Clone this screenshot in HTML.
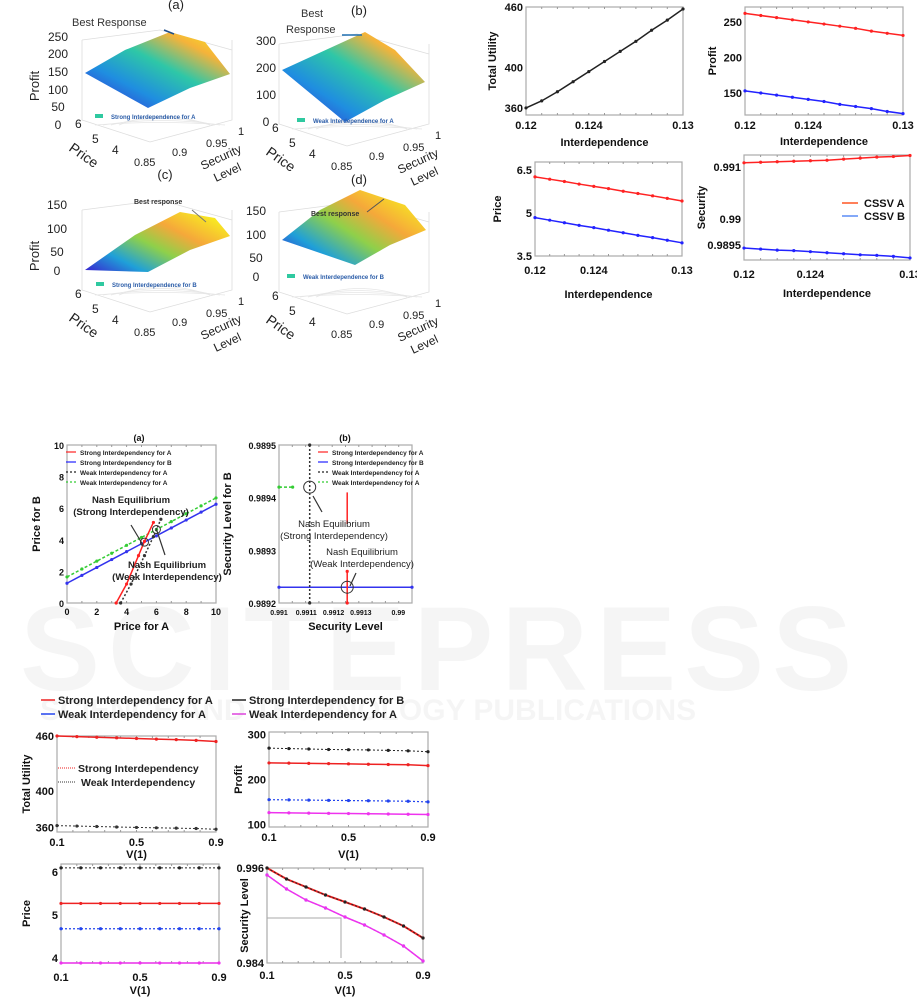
<!DOCTYPE html>
<html><head><meta charset="utf-8">
<style>
html,body{margin:0;padding:0;background:#fff;}
svg{display:block;font-family:"Liberation Sans",Arial,sans-serif;}
.t{font-size:11px;font-weight:bold;fill:#111;}
.s{font-size:9px;font-weight:bold;fill:#111;}
.n{font-size:13px;fill:#222;}
</style></head>
<body>
<svg id="fig" width="917" height="1003" viewBox="0 0 917 1003" xmlns="http://www.w3.org/2000/svg">
<defs>
<linearGradient id="surfA" x1="0" y1="1" x2="1" y2="0">
<stop offset="0" stop-color="#3a1fd0"/><stop offset="0.3" stop-color="#1f8ee0"/><stop offset="0.55" stop-color="#2ec7a7"/><stop offset="0.78" stop-color="#f5b33a"/><stop offset="1" stop-color="#f8f218"/></linearGradient>
<linearGradient id="surfC" x1="0" y1="1" x2="1" y2="0.2">
<stop offset="0" stop-color="#3a1fd0"/><stop offset="0.25" stop-color="#1fa0d8"/><stop offset="0.5" stop-color="#8fd04a"/><stop offset="0.72" stop-color="#f5a83a"/><stop offset="1" stop-color="#f8ee20"/></linearGradient>
</defs>
<g opacity="0.035">
<text x="20" y="690" font-size="120" font-weight="bold" fill="#000" letter-spacing="8">SCITEPRESS</text>
<text x="40" y="720" font-size="30" font-weight="bold" fill="#000">SCIENCE AND TECHNOLOGY PUBLICATIONS</text>
</g>
<g id="surfaces"></g>
<g id="charts"></g>
</svg>
<script>
const NS="http://www.w3.org/2000/svg";
const fig=document.getElementById('fig');
function mk(tag,at,parent,txt){const e=document.createElementNS(NS,tag);for(const k in at)e.setAttribute(k,at[k]);if(txt!==undefined)e.textContent=txt;(parent||fig).appendChild(e);return e;}

/* ---------- 3D surface panels (illustrative) ---------- */
const surfPanels=[
 {lab:"(a)",lx:176,ly:9,zt:["250","200","150","100","50","0"],zx:58,zy:[41,58,76,94,111,129],poly:"85,73 125,50 170,32 205,42 230,74 190,88 148,108",grad:"surfA",leg:"Strong Interdependence for A",legx:111,legy:120,title:"Best Response",tx:72,ty:26,ox:0,oy:0,profit:true},
 {lab:"(b)",lx:359,ly:15,zt:["300","200","100","0"],zx:266,zy:[45,72,99,126],poly:"282,70 330,48 365,32 395,50 425,82 385,100 345,122",grad:"surfA",leg:"Weak Interdependence for A",legx:313,legy:124,title:"Best",tx:301,ty:17,ox:197,oy:4,profit:false},
 {lab:"(c)",lx:165,ly:179,zt:["150","100","50","0"],zx:57,zy:[209,233,256,275],poly:"85,270 135,235 180,212 215,218 230,236 190,250 148,272",grad:"surfC",leg:"Strong Interdependence for B",legx:112,legy:288,title:"Best response",tx:134,ty:204,ox:0,oy:170,profit:true},
 {lab:"(d)",lx:359,ly:184,zt:["150","100","50","0"],zx:256,zy:[215,239,262,281],poly:"282,240 320,210 360,190 405,205 426,230 390,245 355,265",grad:"surfC",leg:"Weak Interdependence for B",legx:303,legy:280,title:"Best response",tx:311,ty:216,ox:197,oy:172,profit:false}
];
const sg=document.getElementById('surfaces');
surfPanels.forEach((p,i)=>{
 const g=mk('g',{},sg);
 
 
 mk('path',{d:`M${82+p.ox},${40+p.oy} L${82+p.ox},${120+p.oy} L${150+p.ox},${142+p.oy} L${232+p.ox},${120+p.oy} L${232+p.ox},${40+p.oy} M${82+p.ox},${40+p.oy} L${160+p.ox},${30+p.oy} L${232+p.ox},${50+p.oy}`,fill:'none',stroke:'#ddd','stroke-width':0.8},g);
 for(let k=0;k<4;k++)mk('path',{d:`M${95+p.ox+k*8},${125+p.oy} Q${160+p.ox},${120+p.oy-k*4} ${225+p.ox-k*5},${125+p.oy}`,fill:'none',stroke:'#e6e6e6','stroke-width':0.7},g);
 const s=mk('polygon',{points:p.poly,fill:'url(#'+p.grad+')'},g);
 
 
 mk('text',{x:p.lx,y:p.ly,'font-size':13,'text-anchor':'middle',fill:'#222'},g,p.lab);
 p.zt.forEach((t,j)=>mk('text',{x:p.zx,y:p.zy[j],'font-size':12,'text-anchor':'middle',fill:'#222'},g,t));
 if(p.profit)mk('text',{x:0,y:0,'font-size':13,fill:'#222','text-anchor':'middle',transform:`translate(${39},${p.oy+86}) rotate(-90)`},g,'Profit');
 const px=p.ox,py=p.oy;
 [["6",75,128],["5",92,143],["4",112,154]].forEach(a=>mk('text',{x:a[1]+px,y:a[2]+py,'font-size':12,fill:'#222'},g,a[0]));
 [["0.85",134,166],["0.9",172,156],["0.95",206,147],["1",238,135]].forEach(a=>mk('text',{x:a[1]+px,y:a[2]+py,'font-size':11,fill:'#222'},g,a[0]));
 mk('text',{x:0,y:0,'font-size':14,fill:'#222',transform:`translate(${68+px},${150+py}) rotate(35)`},g,'Price');
 mk('text',{x:0,y:0,'font-size':12,fill:'#222',transform:`translate(${203+px},${170+py}) rotate(-25)`},g,'Security');
 mk('text',{x:0,y:0,'font-size':12,fill:'#222',transform:`translate(${216+px},${182+py}) rotate(-25)`},g,'Level');
 mk('rect',{x:p.legx-16,y:p.legy-6,width:8,height:4,fill:'#2fc9a0'},g);
 mk('text',{x:p.legx,y:p.legy-1,'font-size':6,'font-weight':'bold',fill:'#2a5ca8'},g,p.leg);
 mk('text',{x:p.tx,y:p.ty,'font-size':i<2?11:7,'font-weight':i<2?'normal':'bold',fill:'#333'},g,p.title);
 if(i===1)mk('text',{x:286,y:33,'font-size':11,fill:'#333'},g,'Response');
});
mk('path',{d:'M164,30 L174,34',stroke:'#1f4f8a','stroke-width':1.5,fill:'none'});
mk('path',{d:'M342,35 L362,35',stroke:'#1f6fb0','stroke-width':1.5,fill:'none'});
mk('path',{d:'M192,210 L206,222',stroke:'#777','stroke-width':1,fill:'none'});
mk('path',{d:'M367,212 L384,199',stroke:'#555','stroke-width':1,fill:'none'});

/* ---------- Line chart data ---------- */
const interdep=[0.12,0.121,0.122,0.123,0.124,0.125,0.126,0.127,0.128,0.129,0.13];
const tuInter=[360,367,376,386,396,406,416,426,437,447,458];
const profitA=[262,259,256,253,250,247,244,241,237,234,231];
const profitB=[153,150,147,144,141,138,134,131,128,124,121];
const priceA=[6.26,6.18,6.1,6.01,5.93,5.85,5.76,5.68,5.6,5.51,5.42];
const priceB=[4.84,4.75,4.66,4.57,4.49,4.4,4.31,4.22,4.14,4.05,3.96];
const secA=[0.99108,0.99109,0.9911,0.99111,0.99112,0.99113,0.99115,0.99117,0.99119,0.9912,0.99122];
const secB=[0.98944,0.98942,0.9894,0.98939,0.98937,0.98935,0.98933,0.98931,0.9893,0.98928,0.98925];

const vGrid=[0.1,0.2,0.3,0.4,0.5,0.6,0.7,0.8,0.9];
const tuStrong=[460,459.3,458.6,458,457.3,456.6,456,455.2,454];
const tuWeak=[362,361.5,361,360.5,360,359.6,359.2,358.8,358];
const prBlackV=[270,269,268,267,266.5,266,265,264,262];
const prRedV=[237,236.5,236,235.5,235,234,233.5,233,231];
const prBlueV=[155,154.5,154,153.5,153,152.5,152,151.5,150];
const prMagV=[126,125.5,125,124.5,124,123.5,123,122.5,122];
const pcBlackV=[6.1,6.1,6.1,6.1,6.1,6.1,6.1,6.1,6.1];
const pcRedV=[5.27,5.27,5.27,5.27,5.27,5.27,5.27,5.27,5.27];
const pcBlueV=[4.68,4.68,4.68,4.68,4.68,4.68,4.68,4.68,4.68];
const pcMagV=[3.88,3.88,3.88,3.88,3.88,3.88,3.88,3.88,3.88];
const slStrong=[0.996,0.99461,0.9936,0.99259,0.99171,0.99082,0.98981,0.98867,0.98716];
const slWeak=[0.99512,0.99335,0.99196,0.99095,0.98981,0.9888,0.98754,0.98615,0.98425];

const nashX=[0,1,2,3,4,5,6,7,8,9,10];
const greenBR=[1.65,2.15,2.65,3.15,3.65,4.15,4.65,5.15,5.65,6.15,6.65];
const blueBR=[1.25,1.75,2.25,2.75,3.25,3.75,4.25,4.75,5.25,5.75,6.25];
const redBRx=[3.3,4.0,4.8,5.2,5.8];
const redBRy=[0,1.2,3.0,3.9,5.1];
const blackBRx=[3.6,4.3,5.2,5.8,6.3];
const blackBRy=[0,1.2,3.0,4.2,5.3];

const chartsG=document.getElementById('charts');
function chart(o){
 const g=mk('g',{},chartsG);
 
 
 const sx=v=>o.x0+(v-o.xmin)/(o.xmax-o.xmin)*(o.x1-o.x0);
 const sy=v=>o.y1-(v-o.ymin)/(o.ymax-o.ymin)*(o.y1-o.y0);
 mk('rect',{x:o.x0,y:o.y0,width:o.x1-o.x0,height:o.y1-o.y0,fill:'none',stroke:'#aaa','stroke-width':1.2},g);
 (o.xt||[]).forEach((t,i)=>{const x=sx(o.xtv[i]);
  const tx=mk('text',{x:x,y:o.y1+o.xtdy,'text-anchor':'middle',class:o.small?'s':'t'},g,t);
  if(o.xfs)tx.setAttribute('style','font-size:'+o.xfs+'px');
  });
 (o.yt||[]).forEach((t,i)=>{const y=sy(o.ytv[i]);
  const tx=mk('text',{x:o.x0-3,y:y+4,'text-anchor':'end',class:o.small?'s':'t'},g,t);
  });
 for(let k=1;k<10;k++){const x=o.x0+k*(o.x1-o.x0)/10;mk('line',{x1:x,x2:x,y1:o.y1,y2:o.y1-2,stroke:'#999'},g);mk('line',{x1:x,x2:x,y1:o.y0,y2:o.y0+2,stroke:'#999'},g);}
 if(o.xl){const t=mk('text',{x:(o.x0+o.x1)/2,y:o.xly,'text-anchor':'middle',class:'t'},g,o.xl);}
 if(o.yl){const t=mk('text',{x:0,y:0,'text-anchor':'middle',class:'t',transform:`translate(${o.ylx},${(o.y0+o.y1)/2}) rotate(-90)`},g,o.yl);}
 o.series.forEach(s=>{
  const pts=s.xs.map((x,i)=>sx(x)+','+sy(s.ys[i])).join(' ');
  const l=mk('polyline',{points:pts,fill:'none',stroke:s.c,'stroke-width':s.w||1.5,'stroke-dasharray':s.dash||'none'},g);
  
  if(s.m!==false)s.xs.forEach((x,i)=>{const c=mk('circle',{cx:sx(x),cy:sy(s.ys[i]),r:1.6,fill:s.mc||s.c},g);});
 });
 return {g,sx,sy};
}
const tickI=['0.12','0.124','0.13'],tickIv=[0.12,0.124,0.13];
chart({name:'total-utility-vs-interdependence',x0:526,x1:683,y0:7,y1:115,xmin:0.12,xmax:0.13,ymin:353,ymax:460,xt:tickI,xtv:tickIv,xtdy:14,yt:['460','400','360'],ytv:[460,400,360],xl:'Interdependence',xly:146,yl:'Total Utility',ylx:496,
 series:[{name:'total-utility-line',xs:interdep,ys:tuInter,c:'#222'}]});
chart({name:'profit-vs-interdependence',x0:745,x1:903,y0:7,y1:115,xmin:0.12,xmax:0.13,ymin:119,ymax:271,xt:tickI,xtv:tickIv,xtdy:14,yt:['250','200','150'],ytv:[250,200,150],xl:'Interdependence',xly:145,yl:'Profit',ylx:716,
 series:[{name:'profit-cssv-a',xs:interdep,ys:profitA,c:'#f22'},{name:'profit-cssv-b',xs:interdep,ys:profitB,c:'#22f'}]});
chart({name:'price-vs-interdependence',x0:535,x1:682,y0:162,y1:256,xmin:0.12,xmax:0.13,ymin:3.5,ymax:6.78,xt:tickI,xtv:tickIv,xtdy:18,yt:['6.5','5','3.5'],ytv:[6.5,5,3.5],xl:'Interdependence',xly:298,yl:'Price',ylx:501,
 series:[{name:'price-cssv-a',xs:interdep,ys:priceA,c:'#f22'},{name:'price-cssv-b',xs:interdep,ys:priceB,c:'#22f'}]});
chart({name:'security-vs-interdependence',x0:744,x1:910,y0:155,y1:260,xmin:0.12,xmax:0.13,ymin:0.98921,ymax:0.99123,xt:tickI,xtv:tickIv,xtdy:18,yt:['0.991','0.99','0.9895'],ytv:[0.991,0.99,0.9895],xl:'Interdependence',xly:297,yl:'Security',ylx:705,
 series:[{name:'security-cssv-a',xs:interdep,ys:secA,c:'#f22'},{name:'security-cssv-b',xs:interdep,ys:secB,c:'#22f'}]});
[['CSSV A','#f52',203],['CSSV B','#5a8cf5',216]].forEach(a=>{
 const lg=mk('g',{},chartsG);
 mk('line',{x1:842,x2:858,y1:a[2],y2:a[2],stroke:a[1],'stroke-width':1.5},lg);
 mk('text',{x:864,y:a[2]+4,class:'t'},lg,a[0]);});

/* Nash (a) */
const na=chart({name:'nash-price-chart',x0:67,x1:216,y0:445,y1:603,xmin:0,xmax:10,ymin:0,ymax:10,small:true,xt:['0','2','4','6','8','10'],xtv:[0,2,4,6,8,10],xtdy:12,yt:['0','2','4','6','8','10'],ytv:[0,2,4,6,8,10],xl:'Price for A',xly:630,yl:'Price for B',ylx:40,
 series:[{name:'weak-b-best-response',xs:nashX,ys:greenBR,c:'#3c3',dash:'3,2'},{name:'strong-b-best-response',xs:nashX,ys:blueBR,c:'#33e'},
 {name:'strong-a-best-response',xs:redBRx,ys:redBRy,c:'#f22'},{name:'weak-a-best-response',xs:blackBRx,ys:blackBRy,c:'#333',dash:'2,2'}]});
mk('text',{x:139,y:441,'text-anchor':'middle',class:'s'},chartsG,'(a)');
mk('circle',{cx:na.sx(5.2),cy:na.sy(3.85),r:4,fill:'none',stroke:'#333'},chartsG);
mk('circle',{cx:na.sx(6),cy:na.sy(4.65),r:4,fill:'none',stroke:'#333'},chartsG);
mk('path',{d:'M131,525 L143,545 M165,555 L156,528',stroke:'#333','stroke-width':1.2,fill:'none'},chartsG);
[['Nash Equilibrium',131,503],['(Strong Interdependency)',131,515],['Nash Equilibrium',167,568],['(Weak Interdependency)',167,580]].forEach(a=>mk('text',{x:a[1],y:a[2],'text-anchor':'middle','font-size':9.5,'font-weight':'bold',fill:'#222'},chartsG,a[0]));
const legA=[['Strong Interdependency for A','#f22',''],['Strong Interdependency for B','#22f',''],['Weak Interdependency for A','#222','2,2'],['Weak Interdependency for A','#3c3','2,2']];
legA.forEach((a,i)=>{const lg=mk('g',{},chartsG);
 mk('line',{x1:66,x2:76,y1:452+i*10,y2:452+i*10,stroke:a[1],'stroke-width':1.2,'stroke-dasharray':a[2]||'none'},lg);
 mk('text',{x:80,y:455+i*10,'font-size':6.5,'font-weight':'bold',fill:'#222'},lg,a[0]);});

/* Nash (b) */
const nb=chart({name:'nash-security-chart',x0:279,x1:412,y0:445,y1:603,xmin:0.991,xmax:0.99139,ymin:0.9892,ymax:0.9895,small:true,xfs:7,xt:['0.991','0.9911','0.9912','0.9913','0.99'],xtv:[0.991,0.99108,0.99116,0.99124,0.99135],xtdy:12,yt:['0.9892','0.9893','0.9894','0.9895'],ytv:[0.9892,0.9893,0.9894,0.9895],xl:'Security Level',xly:630,yl:'Security Level for B',ylx:231,
 series:[{name:'weak-b-security-response',xs:[0.991,0.99104],ys:[0.98942,0.98942],c:'#3c3',dash:'3,2'},{name:'strong-b-security-response',xs:[0.991,0.99139],ys:[0.98923,0.98923],c:'#33e'},
 {name:'weak-a-security-response',xs:[0.99109,0.99109],ys:[0.9892,0.9895],c:'#333',dash:'2,2'},{name:'strong-a-security-response',xs:[0.9912,0.9912],ys:[0.9892,0.98926],c:'#f22'}]});
mk('line',{x1:nb.sx(0.9912),x2:nb.sx(0.9912),y1:nb.sy(0.98935),y2:nb.sy(0.98941),stroke:'#f22','stroke-width':1.5},chartsG);
mk('text',{x:345,y:441,'text-anchor':'middle',class:'s'},chartsG,'(b)');
mk('circle',{cx:nb.sx(0.99109),cy:nb.sy(0.98942),r:6,fill:'none',stroke:'#333'},chartsG);
mk('circle',{cx:nb.sx(0.9912),cy:nb.sy(0.98923),r:6,fill:'none',stroke:'#333'},chartsG);
mk('path',{d:'M313,496 L322,512 M356,573 L350,586',stroke:'#333','stroke-width':1.2,fill:'none'},chartsG);
[['Nash Equilibrium',334,527],['(Strong Interdependency)',334,539],['Nash Equilibrium',362,555],['(Weak Interdependency)',362,567]].forEach(a=>mk('text',{x:a[1],y:a[2],'text-anchor':'middle','font-size':9.5,fill:'#222'},chartsG,a[0]));
legA.forEach((a,i)=>{const lg=mk('g',{},chartsG);
 mk('line',{x1:318,x2:328,y1:452+i*10,y2:452+i*10,stroke:a[1],'stroke-width':1.2,'stroke-dasharray':a[2]||'none'},lg);
 mk('text',{x:332,y:455+i*10,'font-size':6.5,'font-weight':'bold',fill:'#222'},lg,a[0]);});

/* Bottom V(1) charts */
const vT=['0.1','0.5','0.9'],vTv=[0.1,0.5,0.9];
[['Strong Interdependency for A','#e22',41,700],['Weak Interdependency for A','#24e',41,714],['Strong Interdependency for B','#222',232,700],['Weak Interdependency for A','#d4d',232,714]].forEach(a=>{
 const lg=mk('g',{},chartsG);
 mk('line',{x1:a[2],x2:a[2]+14,y1:a[3],y2:a[3],stroke:a[1],'stroke-width':1.5},lg);
 mk('text',{x:a[2]+17,y:a[3]+4,'font-size':11,'font-weight':'bold',fill:'#222'},lg,a[0]);});
chart({name:'total-utility-vs-v1',x0:57,x1:216,y0:736,y1:832,xmin:0.1,xmax:0.9,ymin:355,ymax:460,xt:vT,xtv:vTv,xtdy:14,yt:['460','400','360'],ytv:[460,400,360],xl:'V(1)',xly:858,yl:'Total Utility',ylx:30,
 series:[{name:'tu-strong',xs:vGrid,ys:tuStrong,c:'#e22'},{name:'tu-weak',xs:vGrid,ys:tuWeak,c:'#333',dash:'2,2',w:1}]});
[['Strong Interdependency',772,'#e22'],['Weak Interdependency',786,'#333']].forEach((a,i)=>{
 const lg=mk('g',{},chartsG);
 mk('line',{x1:58,x2:76,y1:a[1]-4,y2:a[1]-4,stroke:a[2],'stroke-dasharray':'1,1'},lg);
 mk('text',{x:78+i*3,y:a[1],'font-size':10.5,'font-weight':'bold',fill:'#222'},lg,a[0]);});
chart({name:'profit-vs-v1',x0:269,x1:428,y0:732,y1:827,xmin:0.1,xmax:0.9,ymin:94,ymax:306,xt:vT,xtv:vTv,xtdy:14,yt:['300','200','100'],ytv:[300,200,100],xl:'V(1)',xly:858,yl:'Profit',ylx:242,
 series:[{name:'profit-strong-b',xs:vGrid,ys:prBlackV,c:'#222',dash:'2,2',w:1},{name:'profit-strong-a',xs:vGrid,ys:prRedV,c:'#e22'},{name:'profit-weak-a',xs:vGrid,ys:prBlueV,c:'#24e',dash:'2,2',w:1.2},{name:'profit-weak-b',xs:vGrid,ys:prMagV,c:'#e3e'}]});
chart({name:'price-vs-v1',x0:61,x1:219,y0:864,y1:963,xmin:0.1,xmax:0.9,ymin:3.88,ymax:6.19,xt:vT,xtv:vTv,xtdy:18,yt:['6','5','4'],ytv:[6,5,4],xl:'V(1)',xly:994,yl:'Price',ylx:30,
 series:[{name:'price-strong-b',xs:vGrid,ys:pcBlackV,c:'#222',dash:'2,2',w:1},{name:'price-strong-a',xs:vGrid,ys:pcRedV,c:'#e22'},{name:'price-weak-a',xs:vGrid,ys:pcBlueV,c:'#24e',dash:'2,2',w:1.2},{name:'price-weak-b',xs:vGrid,ys:pcMagV,c:'#e3e'}]});
mk('path',{d:'M267,918 L341,918 L341,958',fill:'none',stroke:'#aaa','stroke-width':1},chartsG);
chart({name:'security-level-vs-v1',x0:267,x1:423,y0:868,y1:963,xmin:0.1,xmax:0.9,ymin:0.984,ymax:0.996,xt:vT,xtv:vTv,xtdy:16,yt:['0.996','0.984'],ytv:[0.996,0.984],xl:'V(1)',xly:994,yl:'Security Level',ylx:248,
 series:[{name:'sl-strong-a',xs:vGrid,ys:slStrong,c:'#e22',w:2},{name:'sl-strong-b',xs:vGrid,ys:slStrong,c:'#222',dash:'2,2',w:1},{name:'sl-weak-a',xs:vGrid,ys:slWeak,c:'#24e',dash:'2,2',w:1.2},{name:'sl-weak-b',xs:vGrid,ys:slWeak,c:'#e3e',w:1.5}]});
</script>
</body></html>
